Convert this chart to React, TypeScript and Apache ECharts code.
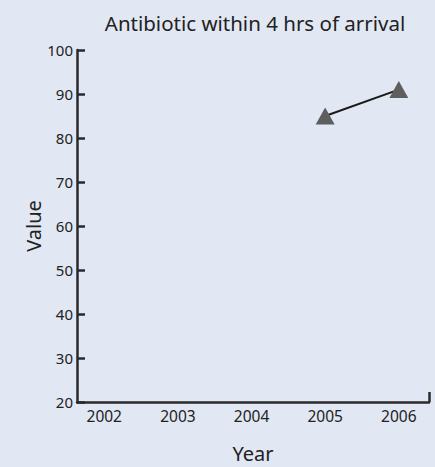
import React, { useEffect, useRef } from "react";
import * as echarts from "echarts";

const years = [2002, 2003, 2004, 2005, 2006];
const seriesYears = [2005, 2006];
const seriesValues = [85, 91];
const yTicks = [20, 30, 40, 50, 60, 70, 80, 90, 100];

const FONT = "'Noto Sans', 'Open Sans', sans-serif";

export default function App() {
  const ref = useRef<HTMLDivElement>(null);
  useEffect(() => {
    if (!ref.current) return;
    const chart = echarts.init(ref.current, undefined, { renderer: "svg" });
    const xMin = 2001.63;
    const xMax = 2006.41;
    chart.setOption({
      animation: false,
      backgroundColor: "#e1e7f3",
      title: {
        text: "Antibiotic within 4 hrs of arrival",
        left: 250,
        textAlign: "center",
        top: 7,
        textStyle: { fontFamily: FONT, fontSize: 20.5, fontWeight: "normal", color: "#222" },
      },
      grid: { left: 77, right: 6, top: 50, bottom: 65, outerBoundsMode: "none", containLabel: false },
      xAxis: {
        type: "value",
        min: xMin,
        max: xMax,
        name: "Year",
        nameLocation: "middle",
        nameGap: 41,
        nameMoveOverlap: false,
        nameTextStyle: { fontFamily: FONT, fontSize: 20, color: "#222" },
        splitLine: { show: false },
        axisLine: { show: true, lineStyle: { color: "#2a2a2a", width: 2.5 } },
        axisTick: { show: true, inside: true, length: 10, customValues: [xMax], lineStyle: { color: "#2a2a2a", width: 2.5 } },
        axisLabel: {
          customValues: years,
          formatter: (v: number) => String(Math.round(v)),
          fontFamily: FONT,
          fontSize: 15.5,
          color: "#222",
          margin: 6,
        },
      },
      yAxis: {
        type: "value",
        min: yTicks[0],
        max: yTicks[yTicks.length - 1],
        interval: 10,
        name: "Value",
        nameLocation: "middle",
        nameGap: 34,
        nameMoveOverlap: false,
        nameTextStyle: { fontFamily: FONT, fontSize: 20, color: "#222" },
        splitLine: { show: false },
        axisLine: { show: true, lineStyle: { color: "#2a2a2a", width: 2.5 } },
        axisTick: { show: true, inside: true, length: 8, lineStyle: { color: "#2a2a2a", width: 2.5 } },
        axisLabel: { fontFamily: FONT, fontSize: 15, color: "#222", margin: 4 },
      },
      series: [
        {
          type: "line",
          data: seriesYears.map((y, i) => [y, seriesValues[i]]),
          symbol: "triangle",
          symbolSize: [19, 17],
          itemStyle: { color: "#5e5e5e" },
          lineStyle: { color: "#1a1a1a", width: 2 },
          z: 3,
        },
      ],
    });
    return () => chart.dispose();
  }, []);
  return <div ref={ref} style={{ width: 435, height: 467, position: "absolute", left: 0, top: 0 }} />;
}
